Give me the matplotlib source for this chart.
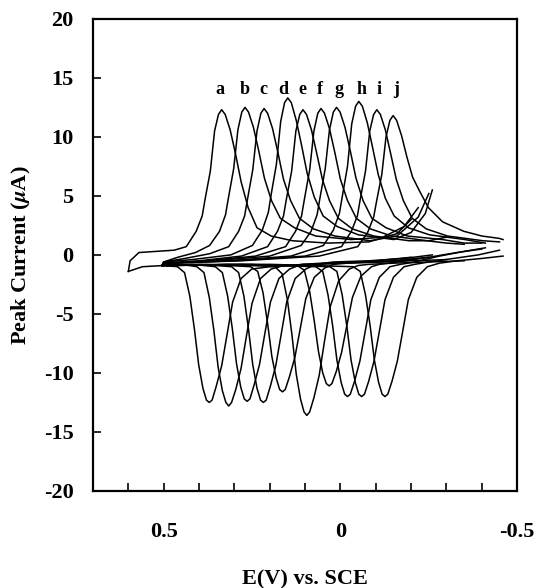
import matplotlib
matplotlib.use("Agg")
import matplotlib.pyplot as plt
from matplotlib.ticker import MultipleLocator, FixedLocator

plt.rcParams['font.family'] = ['Liberation Serif', 'DejaVu Serif']
plt.rcParams['font.weight'] = 'bold'
plt.rcParams['mathtext.fontset'] = 'stix'
plt.rcParams['axes.unicode_minus'] = False

# potential (V vs SCE) and current (uA) for each voltammogram
# each list runs: left end -> forward sweep -> switch -> return sweep -> left end
a_E = [0.600, 0.595, 0.57, 0.52, 0.47, 0.436, 0.408, 0.391, 0.383, 0.368, 0.356, 0.345, 0.336, 0.326, 0.312, 0.297,
       0.281, 0.261, 0.236, 0.196, 0.136, 0.036, -0.08, -0.16, -0.20,
       -0.20, -0.10, 0.0, 0.12, 0.20, 0.251, 0.281, 0.305, 0.321, 0.336, 0.351, 0.363, 0.371, 0.379, 0.389, 0.401,
       0.413, 0.426, 0.441, 0.461, 0.50, 0.56, 0.600]
a_I = [-1.4, -0.5, 0.2, 0.3, 0.4, 0.7, 2.0, 3.3, 4.7, 7.1, 10.5, 11.9, 12.3, 11.9, 10.6, 8.6,
       6.2, 4.0, 2.3, 1.6, 1.2, 1.0, 1.1, 1.8, 3.0,
       -0.2, -0.5, -0.7, -0.9, -1.0, -1.2, -2.0, -4.0, -6.8, -9.4, -11.1, -12.3, -12.5, -12.3, -11.3, -9.3,
       -6.3, -3.5, -1.5, -1.0, -0.9, -1.0, -1.4]

b_E = [0.505, 0.50, 0.46, 0.41, 0.370, 0.342, 0.325, 0.317, 0.302, 0.290, 0.279, 0.270, 0.260, 0.246, 0.231, 0.215,
       0.195, 0.170, 0.130, 0.070, -0.030, -0.12, -0.18, -0.22,
       -0.22, -0.12, 0.0, 0.10, 0.16, 0.196, 0.226, 0.250, 0.266, 0.281, 0.296, 0.308, 0.316, 0.324, 0.334, 0.346,
       0.358, 0.371, 0.386, 0.406, 0.45, 0.505]
b_I = [-0.9, -0.6, -0.2, 0.2, 0.8, 2.0, 3.4, 4.8, 7.3, 10.6, 12.1, 12.5, 12.1, 10.8, 8.8, 6.5,
       4.6, 3.1, 2.3, 1.6, 1.3, 1.5, 2.4, 4.0,
       -0.3, -0.6, -0.7, -0.8, -0.9, -1.2, -2.0, -4.1, -6.9, -9.6, -11.4, -12.5, -12.8, -12.5, -11.5, -9.5,
       -6.4, -3.6, -1.5, -1.0, -0.8, -0.9]

c_E = [0.505, 0.50, 0.44, 0.37, 0.316, 0.288, 0.271, 0.263, 0.248, 0.236, 0.225, 0.216, 0.206, 0.192, 0.177, 0.161,
       0.141, 0.116, 0.076, 0.016, -0.084, -0.16, -0.22, -0.25,
       -0.25, -0.15, -0.05, 0.05, 0.11, 0.144, 0.174, 0.198, 0.214, 0.229, 0.244, 0.256, 0.264, 0.272, 0.282, 0.294,
       0.306, 0.319, 0.334, 0.354, 0.42, 0.505]
c_I = [-0.9, -0.6, -0.3, 0.1, 0.7, 2.0, 3.3, 4.7, 7.2, 10.5, 12.0, 12.4, 12.0, 10.7, 8.7, 6.4,
       4.6, 3.1, 2.2, 1.6, 1.2, 1.6, 3.2, 5.2,
       -0.2, -0.5, -0.6, -0.7, -0.8, -1.2, -2.0, -4.0, -6.7, -9.3, -11.0, -12.2, -12.4, -12.2, -11.2, -9.2,
       -6.2, -3.5, -1.5, -1.0, -0.8, -0.9]

d_E = [0.505, 0.50, 0.42, 0.31, 0.249, 0.221, 0.204, 0.196, 0.181, 0.169, 0.158, 0.149, 0.139, 0.125, 0.110, 0.094,
       0.074, 0.049, 0.009, -0.051, -0.151, -0.20, -0.24, -0.26,
       -0.26, -0.18, -0.08, 0.02, 0.07, 0.098, 0.128, 0.152, 0.168, 0.183, 0.198, 0.210, 0.218, 0.226, 0.236, 0.248,
       0.260, 0.273, 0.288, 0.308, 0.40, 0.505]
d_I = [-0.9, -0.6, -0.4, 0.0, 0.8, 2.1, 3.6, 5.1, 7.7, 11.3, 12.9, 13.3, 12.9, 11.4, 9.3, 6.9,
       4.9, 3.3, 2.4, 1.7, 1.3, 1.9, 3.5, 5.5,
       0.0, -0.3, -0.5, -0.6, -0.8, -1.2, -2.0, -4.0, -6.8, -9.4, -11.1, -12.3, -12.5, -12.3, -11.3, -9.3,
       -6.3, -3.5, -1.5, -1.0, -0.8, -0.9]

e_E = [0.505, 0.50, 0.40, 0.28, 0.206, 0.178, 0.161, 0.153, 0.138, 0.126, 0.115, 0.106, 0.096, 0.082, 0.067, 0.051,
       0.031, 0.006, -0.034, -0.094, -0.194, -0.25, -0.30,
       -0.30, -0.20, -0.10, -0.02, 0.02, 0.044, 0.074, 0.098, 0.114, 0.129, 0.144, 0.156, 0.164, 0.172, 0.182, 0.194,
       0.206, 0.219, 0.234, 0.254, 0.38, 0.505]
e_I = [-0.9, -0.7, -0.5, -0.1, 0.7, 2.0, 3.3, 4.7, 7.1, 10.5, 11.9, 12.3, 11.9, 10.6, 8.6, 6.4,
       4.6, 3.1, 2.2, 1.6, 1.2, 1.2, 1.5,
       -0.4, -0.5, -0.6, -0.7, -0.8, -1.1, -1.9, -3.7, -6.3, -8.7, -10.3, -11.4, -11.6, -11.4, -10.4, -8.6,
       -5.8, -3.2, -1.4, -1.0, -0.8, -0.9]

f_E = [0.50, 0.495, 0.38, 0.24, 0.155, 0.127, 0.110, 0.102, 0.087, 0.075, 0.064, 0.055, 0.045, 0.031, 0.016, 0.000,
       -0.020, -0.045, -0.085, -0.145, -0.245, -0.30, -0.35,
       -0.35, -0.25, -0.15, -0.08, -0.05, -0.025, 0.005, 0.029, 0.045, 0.060, 0.075, 0.087, 0.095, 0.103, 0.113, 0.125,
       0.137, 0.150, 0.165, 0.185, 0.32, 0.50]
f_I = [-0.9, -0.7, -0.5, -0.1, 0.7, 2.0, 3.3, 4.7, 7.2, 10.5, 12.0, 12.4, 12.0, 10.7, 8.7, 6.4,
       4.6, 3.1, 2.2, 1.6, 1.2, 1.0, 0.9,
       -0.5, -0.6, -0.7, -0.8, -0.9, -1.2, -2.2, -4.4, -7.3, -10.2, -12.1, -13.3, -13.6, -13.3, -12.2, -10.1,
       -6.8, -3.8, -1.6, -1.0, -0.8, -0.9]

g_E = [0.50, 0.495, 0.36, 0.20, 0.111, 0.083, 0.066, 0.058, 0.043, 0.031, 0.020, 0.011, 0.001, -0.013, -0.028, -0.044,
       -0.064, -0.089, -0.129, -0.189, -0.289, -0.35, -0.40,
       -0.40, -0.33, -0.25, -0.16, -0.11, -0.088, -0.058, -0.034, -0.018, -0.003, 0.012, 0.024, 0.032, 0.040, 0.050,
       0.062, 0.074, 0.087, 0.102, 0.122, 0.30, 0.50]
g_I = [-0.9, -0.7, -0.5, -0.1, 0.8, 2.0, 3.4, 4.8, 7.3, 10.6, 12.1, 12.5, 12.1, 10.8, 8.8, 6.5,
       4.6, 3.1, 2.3, 1.6, 1.3, 1.0, 1.0,
       0.5, 0.2, -0.2, -0.6, -0.8, -1.0, -1.8, -3.6, -6.0, -8.3, -9.9, -10.9, -11.1, -10.9, -10.0,
       -8.2, -5.6, -3.1, -1.3, -0.9, -0.8, -0.9]

h_E = [0.49, 0.485, 0.32, 0.14, 0.048, 0.020, 0.003, -0.005, -0.020, -0.032, -0.043, -0.052, -0.062, -0.076, -0.091,
       -0.107, -0.127, -0.152, -0.192, -0.252, -0.352, -0.41,
       -0.41, -0.35, -0.28, -0.21, -0.17, -0.140, -0.110, -0.086, -0.070, -0.055, -0.040, -0.028, -0.020, -0.012,
       -0.002, 0.010, 0.022, 0.035, 0.050, 0.070, 0.28, 0.49]
h_I = [-0.9, -0.7, -0.5, -0.1, 0.8, 2.1, 3.5, 4.9, 7.5, 11.1, 12.6, 13.0, 12.6, 11.2, 9.1,
       6.8, 4.8, 3.3, 2.3, 1.7, 1.3, 1.0,
       0.6, 0.3, -0.1, -0.6, -0.8, -1.0, -1.9, -3.8, -6.5, -9.0, -10.7, -11.8, -12.0, -11.8,
       -10.8, -8.9, -6.0, -3.4, -1.4, -1.0, -0.8, -0.9]

i_E = [0.49, 0.485, 0.30, 0.10, -0.003, -0.031, -0.048, -0.056, -0.071, -0.083, -0.094, -0.103, -0.113, -0.127,
       -0.142, -0.158, -0.178, -0.203, -0.243, -0.303, -0.403, -0.45,
       -0.45, -0.39, -0.32, -0.25, -0.21, -0.180, -0.150, -0.126, -0.110, -0.095, -0.080, -0.068, -0.060, -0.052,
       -0.042, -0.030, -0.018, -0.005, 0.010, 0.030, 0.25, 0.49]
i_I = [-0.9, -0.7, -0.5, -0.1, 0.7, 2.0, 3.3, 4.7, 7.1, 10.5, 11.9, 12.3, 11.9, 10.6,
       8.6, 6.4, 4.6, 3.1, 2.2, 1.6, 1.2, 1.1,
       0.4, 0.0, -0.3, -0.6, -0.8, -1.0, -1.9, -3.8, -6.5, -9.0, -10.7, -11.8, -12.0, -11.8,
       -10.8, -8.9, -6.0, -3.4, -1.4, -1.0, -0.8, -0.9]

j_E = [0.49, 0.485, 0.28, 0.06, -0.049, -0.077, -0.094, -0.102, -0.117, -0.129, -0.140, -0.149, -0.159, -0.173,
       -0.188, -0.204, -0.224, -0.249, -0.289, -0.349, -0.40, -0.449, -0.46,
       -0.46, -0.40, -0.33, -0.28, -0.246, -0.216, -0.192, -0.176, -0.161, -0.146, -0.134, -0.126, -0.118,
       -0.108, -0.096, -0.084, -0.071, -0.056, -0.036, 0.20, 0.49]
j_I = [-0.9, -0.7, -0.5, -0.1, 0.7, 1.9, 3.2, 4.5, 6.8, 10.0, 11.4, 11.8, 11.4, 10.1,
       8.3, 6.6, 5.4, 4.0, 2.8, 2.0, 1.6, 1.4, 1.3,
       -0.1, -0.3, -0.5, -0.7, -1.0, -1.9, -3.8, -6.5, -9.0, -10.7, -11.8, -12.0, -11.8,
       -10.8, -8.9, -6.0, -3.4, -1.4, -1.0, -0.8, -0.9]

curve_names = ['a', 'b', 'c', 'd', 'e', 'f', 'g', 'h', 'i', 'j']
label_E = [0.342, 0.272, 0.218, 0.163, 0.108, 0.058, 0.004, -0.060, -0.110, -0.158]
curves_E = [a_E, b_E, c_E, d_E, e_E, f_E, g_E, h_E, i_E, j_E]
curves_I = [a_I, b_I, c_I, d_I, e_I, f_I, g_I, h_I, i_I, j_I]

fig = plt.figure(figsize=(5.39, 5.88), dpi=100)
ax = fig.add_axes([0.1725, 0.165, 0.787, 0.803])

for E, I in zip(curves_E, curves_I):
    # split at the switching potential so the two sweeps are drawn as separate traces
    k = min(range(len(E)), key=lambda n: E[n])
    ax.plot(E[:k + 1], I[:k + 1], color='black', lw=1.1)
    ax.plot(E[k + 1:], I[k + 1:], color='black', lw=1.1)

for name, x in zip(curve_names, label_E):
    ax.text(x, 13.3, name, ha='center', va='bottom', fontsize=13, fontweight='bold')

ax.set_xlim(0.7, -0.5)
ax.set_ylim(-20, 20)
ax.xaxis.set_major_locator(FixedLocator([0.5, 0.0, -0.5]))
ax.xaxis.set_minor_locator(MultipleLocator(0.1))
ax.set_xticklabels(['0.5', '0', '-0.5'])
ax.yaxis.set_major_locator(MultipleLocator(5))

ax.tick_params(axis='x', which='both', direction='in', length=6, width=1.2, pad=22, labelsize=16, top=False)
ax.tick_params(axis='y', direction='in', length=6, width=1.2, pad=14, labelsize=16, right=False)
for sp in ax.spines.values():
    sp.set_linewidth(1.6)

ax.set_xlabel('E(V) vs. SCE', fontsize=16, fontweight='bold', labelpad=20)
ax.set_ylabel('Peak Current ($\\mu$A)', fontsize=16, fontweight='bold', labelpad=8)

fig.savefig('out.png', dpi=100)
